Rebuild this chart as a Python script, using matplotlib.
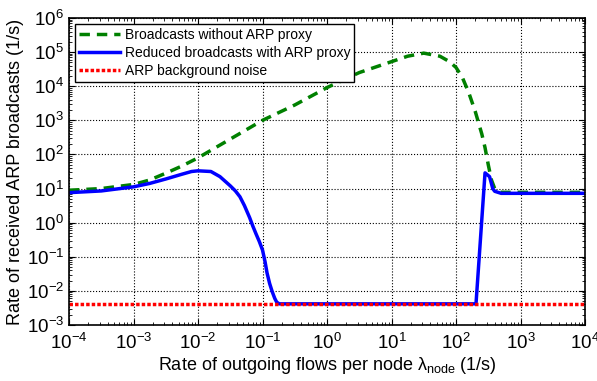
import numpy as np
import matplotlib
matplotlib.use("Agg")
import matplotlib.pyplot as plt

plt.rcParams['font.family'] = ['Liberation Sans', 'DejaVu Sans']
plt.rcParams['mathtext.fontset'] = 'custom'
plt.rcParams['mathtext.rm'] = 'Liberation Sans'
plt.rcParams['mathtext.it'] = 'Liberation Sans:italic'

# values read off the picture as decade exponents (log10)
# broadcasts without ARP proxy
logx_noproxy = [-4, -3.5, -3, -2.75, -2.5, -2.25, -2, -1.5, -1, -0.5, 0, 0.5, 1,
                1.25, 1.5, 1.75, 1.9, 2.0, 2.1, 2.2, 2.3, 2.4, 2.45, 2.5, 2.55,
                2.6, 2.65, 2.7, 4]
logy_noproxy = [0.95, 1.0, 1.12, 1.25, 1.45, 1.66, 1.9, 2.45, 3.0, 3.45, 3.96, 4.4, 4.72,
                4.88, 4.97, 4.88, 4.72, 4.55, 4.25, 3.8, 3.25, 2.6, 2.2, 1.7, 1.25,
                1.0, 0.92, 0.89, 0.89]

# reduced broadcasts with ARP proxy
logx_proxy = [-4, -3.5, -3, -2.75, -2.5, -2.25, -2.1, -2, -1.8, -1.66, -1.5, -1.42,
              -1.35, -1.28, -1.2, -1.15, -1.1, -1.05, -1.0, -0.96, -0.93, -0.89,
              -0.85, -0.81, -0.78, -0.74, 2.31, 2.45, 2.52, 2.57, 2.6, 2.7, 4]
logy_proxy = [0.88, 0.93, 1.05, 1.15, 1.28, 1.42, 1.5, 1.52, 1.5, 1.35, 1.08, 0.93,
              0.76, 0.5, 0.15, -0.1, -0.33, -0.55, -0.8, -1.15, -1.47, -1.78,
              -2.02, -2.22, -2.33, -2.38, -2.38, 1.46, 1.35, 1.0, 0.92, 0.86, 0.86]

# background noise
logx_noise = [-4, 4]
logy_noise = [-2.38, -2.38]

fig = plt.figure(figsize=(5.97, 3.81), dpi=100)
ax = fig.add_axes([69/597, 1-325/381, 516/597, 307/381])

ax.plot(10.0**np.array(logx_noproxy), 10.0**np.array(logy_noproxy), color='#008000',
        ls=(0, (3, 2)), lw=2.5, label='Broadcasts without ARP proxy')
ax.plot(10.0**np.array(logx_proxy), 10.0**np.array(logy_proxy), color='#0000ff',
        lw=2.5, label='Reduced broadcasts with ARP proxy')
ax.plot(10.0**np.array(logx_noise), 10.0**np.array(logy_noise), color='#ff0000',
        ls=(0, (1, 0.6)), lw=2.5, label='ARP background noise')

ax.set_xscale('log')
ax.set_yscale('log')
ax.set_xlim(1e-4, 1e4)
ax.set_ylim(1e-3, 1e6)
ax.set_xticks([10.0**k for k in range(-4, 5)])
ax.set_yticks([10.0**k for k in range(-3, 7)])
ax.grid(True, which='major', color='black', ls=':', lw=0.8)
ax.tick_params(which='both', direction='in', top=True, right=True, labelsize=13.5)
ax.tick_params(axis='x', pad=6)
ax.tick_params(which='major', length=4)
ax.tick_params(which='minor', length=2)
for s in ax.spines.values():
    s.set_linewidth(1.2)

ax.set_xlabel('Rate of outgoing flows per node λ$_{\\mathrm{node}}$ (1/s)', fontsize=13,
              labelpad=1)
ax.set_ylabel('Rate of received ARP broadcasts (1/s)', fontsize=13, labelpad=2)

leg = ax.legend(loc='upper left', fontsize=10, fancybox=False, framealpha=1,
                edgecolor='black', borderaxespad=0.4, handlelength=3,
                borderpad=0.3, labelspacing=0.3, handletextpad=0.3)
leg.get_frame().set_linewidth(1.0)

fig.savefig('out.png', dpi=100)
